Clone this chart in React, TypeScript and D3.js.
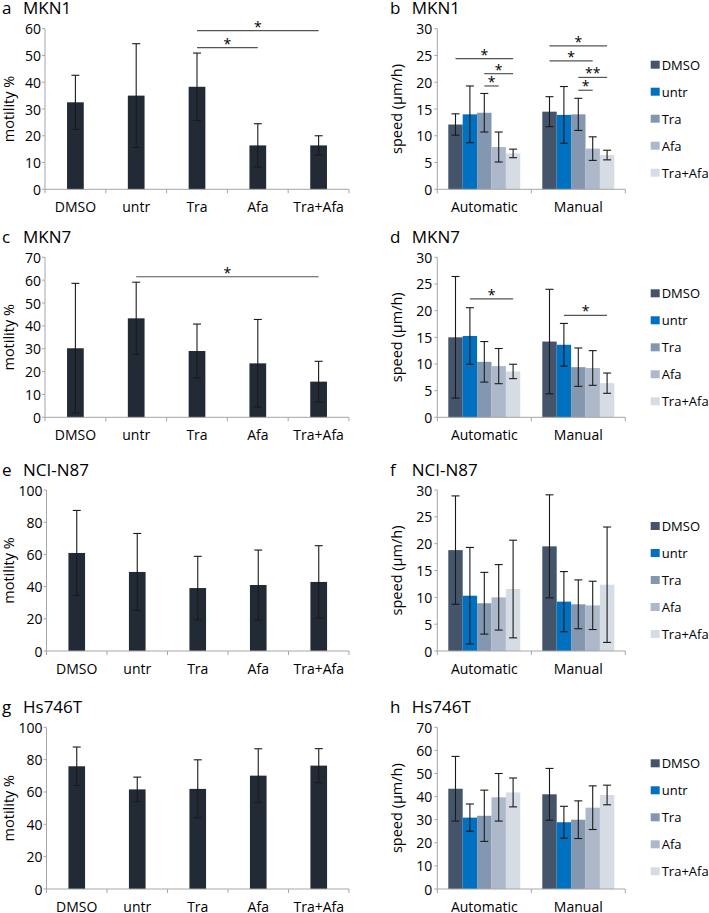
import React from 'react';
import * as d3 from 'd3';

// categories
const treatments = ['DMSO', 'untr', 'Tra', 'Afa', 'Tra+Afa'];
const methods = ['Automatic', 'Manual'];
const seriesColors = ['#44546a', '#0070c0', '#8497b0', '#adb9ca', '#d6dce4'];

// motility % (mean, sd)
const mkn1Motility = [32.5, 35.0, 38.3, 16.4, 16.4];
const mkn1MotilityErr = [10.1, 19.4, 12.6, 8.1, 3.6];
const mkn7Motility = [30.2, 43.3, 29.0, 23.6, 15.6];
const mkn7MotilityErr = [28.4, 15.8, 11.8, 19.2, 8.9];
const n87Motility = [60.9, 49.1, 39.1, 41.0, 42.9];
const n87MotilityErr = [26.4, 23.9, 19.7, 21.7, 22.5];
const hs746tMotility = [75.9, 61.6, 61.9, 70.1, 76.3];
const hs746tMotilityErr = [11.9, 7.6, 18.0, 16.6, 10.5];

// speed µm/h, [Automatic, Manual]
const mkn1Speed = [[12.1, 14.0, 14.3, 7.9, 6.7], [14.5, 13.9, 14.0, 7.6, 6.4]];
const mkn1SpeedErr = [[2.0, 5.3, 3.6, 2.8, 0.8], [2.8, 5.3, 3.0, 2.2, 0.9]];
const mkn7Speed = [[15.0, 15.25, 10.4, 9.6, 8.6], [14.2, 13.6, 9.4, 9.25, 6.4]];
const mkn7SpeedErr = [[11.4, 5.3, 3.8, 3.3, 1.35], [9.8, 4.0, 3.6, 3.25, 1.9]];
const n87Speed = [[18.8, 10.3, 8.9, 10.0, 11.55], [19.5, 9.2, 8.7, 8.5, 12.35]];
const n87SpeedErr = [[10.1, 9.0, 5.75, 6.1, 9.1], [9.6, 5.6, 4.55, 4.5, 10.75]];
const hs746tSpeed = [[43.4, 30.9, 31.7, 39.7, 41.8], [41.0, 28.9, 30.0, 35.2, 40.7]];
const hs746tSpeedErr = [[14.0, 5.9, 11.1, 10.3, 6.25], [11.2, 6.9, 8.15, 9.45, 4.25]];

// significance brackets
const mkn1MotilitySig: [number, number, number, string][] = [[2, 3, 52.9, '*'], [2, 4, 59.25, '*']];
const mkn7MotilitySig: [number, number, number, string][] = [[1, 4, 61.5, '*']];
// [method, from, to, y, label]
const mkn1SpeedSig: [number, number, number, number, string][] = [
  [0, 0, 4, 24.4, '*'], [0, 2, 4, 21.6, '*'], [0, 2, 3, 19.3, '*'],
  [1, 0, 4, 26.8, '*'], [1, 0, 3, 24.0, '*'], [1, 2, 4, 20.9, '**'], [1, 2, 3, 18.5, '*'],
];
const mkn7SpeedSig: [number, number, number, number, string][] = [[0, 1, 4, 22.2, '*'], [1, 1, 4, 19.1, '*']];

const FONT = "'Open Sans', sans-serif";
const AXIS = '#a6a6a6';
const ERR = '#1a1a1a';
const SIG = '#555';

const rows = [
  { top: 28.7, bottom: 189.3 },
  { top: 257.3, bottom: 417.3 },
  { top: 490, bottom: 651 },
  { top: 727.3, bottom: 889 },
];

interface MotProps {
  letter: string; title: string; values: number[]; errors: number[];
  yMax: number; yStep: number; row: number; left: number; sigs: [number, number, number, string][];
}

const MotilityPanel = ({ letter, title, values, errors, yMax, yStep, row, left, sigs }: MotProps) => {
  const { top, bottom } = rows[row];
  const right = 349;
  const x = d3.scaleBand<string>().domain(treatments).range([left, right]);
  const y = d3.scaleLinear().domain([0, yMax]).range([bottom, top]);
  const bw = x.bandwidth();
  const barW = bw * 0.275;
  const cx = (i: number) => (x(treatments[i]) as number) + bw / 2;
  const ticks = d3.range(0, yMax + yStep / 2, yStep);
  return (
    <g>
      <text x={2} y={top - 14.5} fontSize={17}>{letter}</text>
      <text x={23} y={top - 14.5} fontSize={17}>{title}</text>
      <text transform={`translate(8,${(top + bottom) / 2}) rotate(-90)`} textAnchor="middle" dominantBaseline="central" fontSize={14.5}>motility %</text>
      <line x1={left} x2={left} y1={top} y2={bottom} stroke={AXIS} />
      {ticks.map((t) => (
        <g key={t}>
          <line x1={left - 3} x2={left} y1={y(t)} y2={y(t)} stroke={AXIS} />
          <text x={left - 4} y={y(t)} textAnchor="end" dominantBaseline="central" fontSize={14}>{t}</text>
        </g>
      ))}
      {values.map((v, i) => (
        <rect key={i} x={cx(i) - barW / 2} y={y(v)} width={barW} height={bottom - y(v)} fill="#222a35" />
      ))}
      {values.map((v, i) => (
        <g key={i} stroke={ERR} strokeWidth={1.1}>
          <line x1={cx(i)} x2={cx(i)} y1={y(v + errors[i])} y2={y(v - errors[i])} />
          <line x1={cx(i) - 4} x2={cx(i) + 4} y1={y(v + errors[i])} y2={y(v + errors[i])} />
          <line x1={cx(i) - 4} x2={cx(i) + 4} y1={y(v - errors[i])} y2={y(v - errors[i])} />
        </g>
      ))}
      <line x1={left} x2={right} y1={bottom} y2={bottom} stroke={AXIS} />
      {[left, ...treatments.map((t) => (x(t) as number) + bw)].map((p, i) => (
        <line key={i} x1={p} x2={p} y1={bottom} y2={bottom + 4} stroke={AXIS} />
      ))}
      {treatments.map((t, i) => (
        <text key={t} x={cx(i)} y={bottom + 22.5} textAnchor="middle" fontSize={14}>{t}</text>
      ))}
      {sigs.map(([a, b, v, lab], k) => (
        <g key={k}>
          <line x1={cx(a)} x2={cx(b)} y1={y(v)} y2={y(v)} stroke={SIG} strokeWidth={1.2} />
          <text x={(cx(a) + cx(b)) / 2} y={y(v) + 1} textAnchor="middle" fontSize={14}>{lab}</text>
        </g>
      ))}
    </g>
  );
};

interface SpeedProps {
  letter: string; title: string; values: number[][]; errors: number[][];
  yMax: number; yStep: number; row: number; sigs: [number, number, number, number, string][];
}

const SpeedPanel = ({ letter, title, values, errors, yMax, yStep, row, sigs }: SpeedProps) => {
  const { top, bottom } = rows[row];
  const left = 437.3;
  const right = 625.3;
  const xo = d3.scaleBand<string>().domain(methods).range([left, right]);
  const obw = xo.bandwidth();
  const xi = d3.scaleBand<string>().domain(treatments).range([obw * 0.117, obw * 0.883]);
  const ibw = xi.bandwidth();
  const y = d3.scaleLinear().domain([0, yMax]).range([bottom, top]);
  const bx = (m: number, i: number) => (xo(methods[m]) as number) + (xi(treatments[i]) as number);
  const cx = (m: number, i: number) => bx(m, i) + ibw / 2;
  const ticks = d3.range(0, yMax + yStep / 2, yStep);
  return (
    <g>
      <text x={390} y={top - 14.5} fontSize={17}>{letter}</text>
      <text x={411.7} y={top - 14.5} fontSize={17}>{title}</text>
      <text transform={`translate(396.7,${(top + bottom) / 2}) rotate(-90)`} textAnchor="middle" dominantBaseline="central" fontSize={14.5}>speed (µm/h)</text>
      <line x1={left} x2={left} y1={top} y2={bottom} stroke={AXIS} />
      {ticks.map((t) => (
        <g key={t}>
          <line x1={left - 3} x2={left} y1={y(t)} y2={y(t)} stroke={AXIS} />
          <text x={left - 5} y={y(t)} textAnchor="end" dominantBaseline="central" fontSize={14}>{t}</text>
        </g>
      ))}
      {values.map((vals, m) => vals.map((v, i) => (
        <rect key={`${m}-${i}`} x={bx(m, i)} y={y(v)} width={ibw} height={bottom - y(v)} fill={seriesColors[i]} />
      )))}
      {values.map((vals, m) => vals.map((v, i) => {
        const e = errors[m][i];
        const c = cx(m, i);
        return (
          <g key={`${m}-${i}`} stroke={ERR} strokeWidth={1.1}>
            <line x1={c} x2={c} y1={y(v + e)} y2={y(v - e)} />
            <line x1={c - 4} x2={c + 4} y1={y(v + e)} y2={y(v + e)} />
            <line x1={c - 4} x2={c + 4} y1={y(v - e)} y2={y(v - e)} />
          </g>
        );
      }))}
      <line x1={left} x2={right} y1={bottom} y2={bottom} stroke={AXIS} />
      {[left, ...methods.map((m) => (xo(m) as number) + obw)].map((p, i) => (
        <line key={i} x1={p} x2={p} y1={bottom} y2={bottom + 4} stroke={AXIS} />
      ))}
      {methods.map((m) => (
        <text key={m} x={(xo(m) as number) + obw / 2} y={bottom + 22.5} textAnchor="middle" fontSize={14}>{m}</text>
      ))}
      {sigs.map(([m, a, b, v, lab], k) => (
        <g key={k}>
          <line x1={cx(m, a)} x2={cx(m, b)} y1={y(v)} y2={y(v)} stroke={SIG} strokeWidth={1.2} />
          <text x={(cx(m, a) + cx(m, b)) / 2} y={y(v) + 1} textAnchor="middle" fontSize={14}>{lab}</text>
        </g>
      ))}
      {treatments.map((t, i) => {
        const ly = top + 36 + i * 27;
        return (
          <g key={t}>
            <rect x={650.7} y={ly - 4} width={9} height={8} fill={seriesColors[i]} />
            <text x={661.7} y={ly} dominantBaseline="central" fontSize={13}>{t}</text>
          </g>
        );
      })}
    </g>
  );
};

export default function App() {
  return (
    <svg width={709} height={913} style={{ position: 'absolute', left: 0, top: 0, background: '#fff' }} fontFamily={FONT} fill="#000">
      <rect width={709} height={913} fill="#fff" />
      <MotilityPanel letter="a" title="MKN1" values={mkn1Motility} errors={mkn1MotilityErr} yMax={60} yStep={10} row={0} left={45} sigs={mkn1MotilitySig} />
      <MotilityPanel letter="c" title="MKN7" values={mkn7Motility} errors={mkn7MotilityErr} yMax={70} yStep={10} row={1} left={45} sigs={mkn7MotilitySig} />
      <MotilityPanel letter="e" title="NCI-N87" values={n87Motility} errors={n87MotilityErr} yMax={100} yStep={20} row={2} left={46.5} sigs={[]} />
      <MotilityPanel letter="g" title="Hs746T" values={hs746tMotility} errors={hs746tMotilityErr} yMax={100} yStep={20} row={3} left={46.5} sigs={[]} />
      <SpeedPanel letter="b" title="MKN1" values={mkn1Speed} errors={mkn1SpeedErr} yMax={30} yStep={5} row={0} sigs={mkn1SpeedSig} />
      <SpeedPanel letter="d" title="MKN7" values={mkn7Speed} errors={mkn7SpeedErr} yMax={30} yStep={5} row={1} sigs={mkn7SpeedSig} />
      <SpeedPanel letter="f" title="NCI-N87" values={n87Speed} errors={n87SpeedErr} yMax={30} yStep={5} row={2} sigs={[]} />
      <SpeedPanel letter="h" title="Hs746T" values={hs746tSpeed} errors={hs746tSpeedErr} yMax={70} yStep={10} row={3} sigs={[]} />
    </svg>
  );
}
